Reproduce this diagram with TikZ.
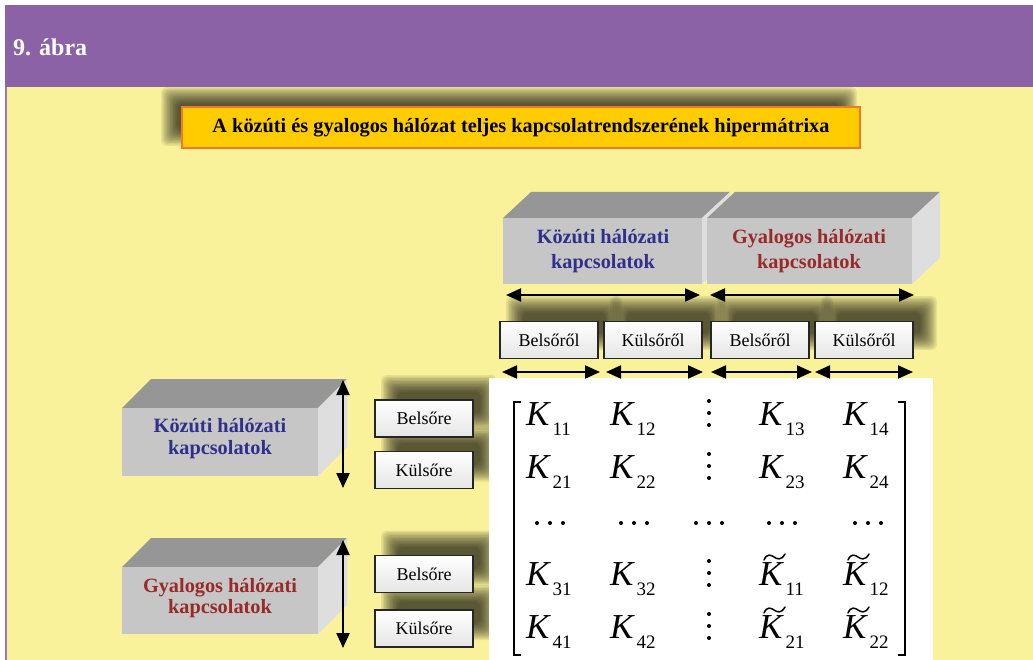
\documentclass[tikz,border=0pt]{standalone}
\usepackage{fontspec}
\setmainfont{Liberation Serif}
\usetikzlibrary{arrows.meta}

\definecolor{headpurple}{RGB}{138,98,165}
\definecolor{edgepurple}{RGB}{160,120,175}
\definecolor{paper}{RGB}{250,242,155}
\definecolor{titlefill}{RGB}{255,204,0}
\definecolor{titleline}{RGB}{240,120,40}
\definecolor{topgray}{RGB}{150,150,150}
\definecolor{frontgray}{RGB}{198,198,198}
\definecolor{sidegray}{RGB}{222,222,222}
\definecolor{roadblue}{RGB}{48,48,140}
\definecolor{walkred}{RGB}{152,42,42}

% soft drop shadow: stacked translucent rectangles
\newcommand{\blurbox}[4]{%
  \foreach \k in {0,...,11}{%
    \fill[black, opacity=0.08, rounded corners=6pt]
      (#1-9+\k*1.5,#2-9+\k*1.5) rectangle (#3+9-\k*1.5,#4+9-\k*1.5);}}

% box in oblique view: front face (x1,y1)-(x2,y2), depth (dx,dy)
\newcommand{\cuboid}[6]{%
  \fill[topgray] (#1,#2) -- (#1+#5,#2-#6) -- (#3+#5,#2-#6) -- (#3,#2) -- cycle;
  \fill[sidegray] (#3,#2) -- (#3+#5,#2-#6) -- (#3+#5,#4-#6) -- (#3,#4) -- cycle;
  \fill[frontgray] (#1,#2) rectangle (#3,#4);}

% matrix entry K with subscript
\newcommand{\Kent}[1]{{\fontsize{35}{35}\selectfont\itshape K}\kern3pt\raisebox{-10pt}{\fontsize{19}{19}\selectfont #1}}

\tikzset{
  x=1pt, y=-1pt,
  dblarrow/.style={line width=2pt,
    {Triangle[length=15pt,width=13pt]}-{Triangle[length=15pt,width=13pt]}},
  tagbox/.style={draw=black!85, line width=1.6pt, top color=white, bottom color=black!10,
    minimum width=98pt, minimum height=37pt, inner sep=0pt,
    font=\fontsize{18}{20}\selectfont},
  facelabel/.style={align=center, inner sep=0pt},
  kent/.style={inner sep=0pt, anchor=base west},
  mdot/.style={fill=black},
  tildemark/.style={line width=1.5pt, line cap=round},
}

\begin{document}
\begin{tikzpicture}
\useasboundingbox (0,0) rectangle (1033,660);
\fill[white] (0,0) rectangle (1033,660);

% header band and page
\fill[headpurple] (5,5) rectangle (1033,87);
\fill[paper] (5,87) rectangle (1033,660);
\fill[edgepurple] (5,87) rectangle (7,660);
\node[anchor=base west, text=white, font=\bfseries\fontsize{24}{24}\selectfont, inner sep=0pt]
  (fig) at (13,56) {9. ábra};

% title
\blurbox{170}{96}{848}{137}
\node[draw=titleline, line width=1.6pt, fill=titlefill, minimum width=678pt, minimum height=41pt,
  inner sep=0pt, font=\bfseries\fontsize{20.3}{20}\selectfont] (title) at (521,127.5)
  {A közúti és gyalogos hálózat teljes kapcsolatrendszerének hipermátrixa};

% column headers
\cuboid{503}{218}{702}{284}{28}{26}
\cuboid{707}{218}{912}{284}{28}{26}
\node[facelabel, text=roadblue, font=\bfseries\fontsize{20.3}{25}\selectfont] (colroad) at (603,251)
  {Közúti hálózati\\kapcsolatok};
\node[facelabel, text=walkred, font=\bfseries\fontsize{20.3}{25}\selectfont] (colwalk) at (809,251)
  {Gyalogos hálózati\\kapcsolatok};

% row headers
\cuboid{122}{408}{318}{476}{29}{29}
\cuboid{122}{567}{318}{634}{29}{29}
\node[facelabel, text=roadblue, font=\bfseries\fontsize{20.3}{22}\selectfont] (rowroad) at (220,439)
  {Közúti hálózati\\kapcsolatok};
\node[facelabel, text=walkred, font=\bfseries\fontsize{20.3}{21}\selectfont] (rowwalk) at (220,598)
  {Gyalogos hálózati\\kapcsolatok};

% shadows of the tags
\foreach \cx in {549,653,760,864}{\blurbox{\cx-49+15}{305}{\cx+49+15}{341}}
\foreach \cy in {418.5,470,574,628.5}{\blurbox{390}{\cy-18.5-16}{488}{\cy+18.5-16}}

% matrix sheet
\fill[white] (489,378) rectangle (933,660);

% column tags
\node[tagbox] (cb1) at (549,340) {Belsőről};
\node[tagbox] (ck1) at (653,340) {Külsőről};
\node[tagbox] (cb2) at (760,340) {Belsőről};
\node[tagbox] (ck2) at (864,340) {Külsőről};

% row tags
\node[tagbox] (rb1) at (424,418.5) {Belsőre};
\node[tagbox] (rk1) at (424,470) {Külsőre};
\node[tagbox] (rb2) at (424,574) {Belsőre};
\node[tagbox] (rk2) at (424,628.5) {Külsőre};

% arrow ends
\coordinate (h1a) at (506,295); \coordinate (h1b) at (700,295);
\coordinate (h2a) at (710,295); \coordinate (h2b) at (914,295);
\coordinate (s1a) at (502,372); \coordinate (s1b) at (600,372);
\coordinate (s2a) at (606,372); \coordinate (s2b) at (703,372);
\coordinate (s3a) at (711,372); \coordinate (s3b) at (812,372);
\coordinate (s4a) at (815,372); \coordinate (s4b) at (913,372);
\coordinate (v1a) at (343,380); \coordinate (v1b) at (343,488);
\coordinate (v2a) at (343,540); \coordinate (v2b) at (343,648);

\foreach \p in {h1,h2,s1,s2,s3,s4,v1,v2}{\draw[dblarrow] (\p a) -- (\p b);}

% brackets
\draw[line width=1.8pt] (521,402) -- (514,402) -- (514,655) -- (521,655);
\draw[line width=1.8pt] (898,402) -- (905,402) -- (905,655) -- (898,655);

% entries
\node[kent] (k11) at (526,425) {\Kent{11}};
\node[kent] (k12) at (610,425) {\Kent{12}};
\node[kent] (k13) at (759,425) {\Kent{13}};
\node[kent] (k14) at (843,425) {\Kent{14}};
\node[kent] (k21) at (526,478) {\Kent{21}};
\node[kent] (k22) at (610,478) {\Kent{22}};
\node[kent] (k23) at (759,478) {\Kent{23}};
\node[kent] (k24) at (843,478) {\Kent{24}};
\node[kent] (k31) at (526,585) {\Kent{31}};
\node[kent] (k32) at (610,585) {\Kent{32}};
\node[kent] (t11) at (759,585) {\Kent{11}};
\node[kent] (t12) at (843,585) {\Kent{12}};
\node[kent] (k41) at (526,638) {\Kent{41}};
\node[kent] (k42) at (610,638) {\Kent{42}};
\node[kent] (t21) at (759,638) {\Kent{21}};
\node[kent] (t22) at (843,638) {\Kent{22}};

% tildes over the pedestrian block
\foreach \t in {t11,t12,t21,t22}{
  \begin{scope}[shift={(\t.base west)}]
    \draw[tildemark] (5,-25) .. controls (8,-32) and (12,-30) .. (15,-28)
      .. controls (18,-26) and (22,-24) .. (26,-31);
  \end{scope}}

% vertical dots in the separator column
\foreach \by in {425,478,585,638}{
  \foreach \d in {0,12,24}{\fill[mdot] (709,\by-\d) circle (2pt);}}

% horizontal dots in the middle row
\foreach \cx in {550,634,709,782,868}{
  \foreach \d in {-13,0,13}{\fill[mdot] (\cx+\d,523) circle (2pt);}}
\end{tikzpicture}
\end{document}
